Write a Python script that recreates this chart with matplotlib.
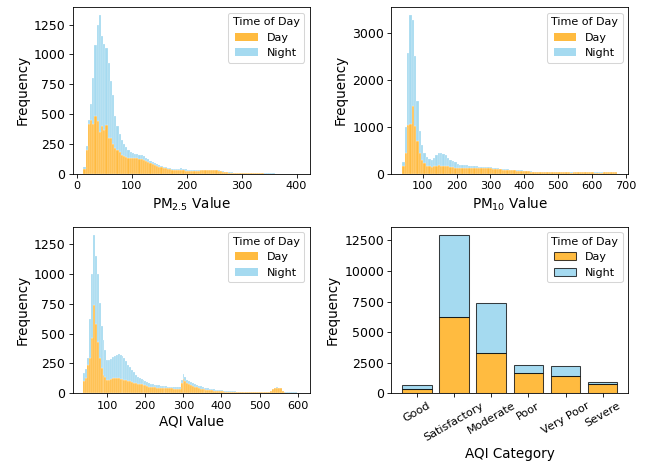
import numpy as np
import matplotlib
matplotlib.use("Agg")
import matplotlib.pyplot as plt
from matplotlib.patches import Patch
from matplotlib.ticker import MultipleLocator

# ---------------- data (bar heights) ----------------
# PM2.5 histogram: bins of width 4 starting at 12
pm25_start, pm25_width = 12, 4
pm25_day = [
    40, 200, 420, 450, 420, 480, 440, 350, 400, 370,
    410, 300, 300, 250, 215, 200, 185, 160, 150, 140,
    132, 130, 130, 130, 128, 125, 122, 115, 108, 100,
    90, 82, 75, 66, 58, 52, 48, 44, 40, 36,
    33, 30, 30, 30, 30, 28, 26, 22, 22, 22,
    24, 24, 26, 28, 28, 28, 28, 28, 28, 30,
    28, 24, 20, 16, 12, 10, 8, 7, 6, 5,
    5, 4, 4, 3, 3, 3, 2, 2, 3, 3,
    2, 2, 1, 1, 1, 1, 1, 1, 1, 0,
    0, 0, 0, 0, 0, 0, 0, 0,
]
pm25_night = [
    20, 30, 30, 130, 380, 600, 810, 980, 750, 720,
    640, 630, 480, 410, 265, 200, 145, 120, 95, 80,
    68, 55, 45, 38, 37, 35, 36, 33, 27, 25,
    20, 18, 13, 12, 12, 12, 10, 8, 8, 8,
    7, 8, 10, 12, 14, 14, 14, 12, 8, 6,
    4, 4, 4, 4, 4, 4, 4, 4, 4, 4,
    4, 4, 4, 4, 4, 4, 4, 3, 3, 3,
    3, 3, 3, 3, 3, 2, 2, 2, 1, 1,
    1, 1, 1, 1, 1, 1, 1, 0, 0, 1,
    1, 1, 1, 1, 1, 1, 1, 1,
]

# PM10 histogram: bins of width 7 starting at 39
pm10_start, pm10_width = 39, 7
pm10_day = [
    160, 440, 1040, 1060, 1440, 1010, 700, 450, 300, 220,
    170, 155, 150, 155, 165, 175, 170, 165, 160, 155,
    150, 140, 130, 120, 118, 115, 115, 115, 118, 120,
    118, 115, 118, 120, 125, 128, 125, 118, 110, 105,
    100, 95, 88, 82, 78, 74, 70, 68, 65, 62,
    60, 56, 52, 48, 42, 38, 35, 33, 31, 30,
    28, 27, 26, 26, 25, 25, 25, 27, 31, 27,
    25, 23, 25, 29, 31, 29, 27, 27, 29, 27,
    25, 23, 22, 22, 23, 25, 27, 29, 31, 31,
    27,
]
pm10_night = [
    80, 560, 1520, 2320, 1830, 1490, 850, 450, 300, 220,
    180, 155, 150, 175, 235, 275, 270, 255, 240, 185,
    150, 130, 110, 90, 77, 70, 65, 60, 52, 45,
    42, 40, 32, 30, 20, 17, 15, 17, 15, 15,
    15, 15, 12, 13, 12, 11, 10, 10, 10, 8,
    8, 9, 8, 7, 8, 7, 7, 7, 7, 6,
    6, 5, 4, 4, 3, 3, 3, 3, 3, 3,
    3, 3, 3, 3, 3, 3, 3, 3, 3, 3,
    3, 3, 3, 3, 3, 3, 3, 3, 3, 3,
    3,
]

# AQI histogram: bins of width 5 starting at 38
aqi_start, aqi_width = 38, 5
aqi_day = [
    100, 125, 240, 300, 460, 740, 580, 430, 300, 210,
    155, 140, 115, 115, 120, 126, 130, 131, 128, 124,
    120, 115, 110, 105, 100, 94, 90, 86, 82, 78,
    75, 70, 66, 62, 57, 54, 52, 50, 48, 48,
    47, 46, 45, 44, 42, 42, 41, 40, 38, 36,
    38, 85, 120, 100, 85, 76, 68, 62, 56, 50,
    45, 40, 36, 34, 31, 29, 27, 25, 23, 21,
    20, 19, 17, 16, 15, 14, 13, 12, 12, 11,
    10, 10, 10, 10, 9, 9, 8, 8, 8, 8,
    8, 8, 8, 7, 7, 7, 7, 10, 18, 38,
    44, 48, 46, 42, 18, 8, 6, 6, 5, 5,
    5, 5, 4,
]
aqi_night = [
    70, 75, 60, 320, 540, 590, 570, 570, 460, 350,
    295, 220, 165, 165, 170, 179, 185, 194, 202, 201,
    195, 185, 160, 135, 120, 101, 85, 69, 58, 50,
    43, 40, 34, 30, 29, 26, 24, 22, 20, 18,
    17, 16, 15, 14, 14, 13, 13, 13, 14, 14,
    14, 25, 40, 35, 30, 26, 24, 22, 20, 20,
    19, 18, 16, 14, 13, 13, 11, 10, 9, 9,
    8, 7, 7, 6, 6, 6, 6, 6, 5, 5,
    5, 5, 4, 4, 4, 4, 4, 4, 4, 4,
    3, 3, 3, 3, 3, 3, 3, 2, 2, 2,
    2, 2, 2, 2, 2, 2, 2, 2, 2, 2,
    2, 2, 2,
]

# AQI category counts
categories = ["Good", "Satisfactory", "Moderate", "Poor", "Very Poor", "Severe"]
cat_day = [330, 6200, 3320, 1660, 1390, 730]
cat_night = [350, 6770, 4100, 625, 810, 170]

# ---------------- styling ----------------
DAY_C = "orange"
NIGHT_C = "skyblue"
ALPHA = 0.75

plt.rcParams.update({
    "xtick.labelsize": 10.8,
    "ytick.labelsize": 12,
    "axes.labelsize": 13,
    "legend.fontsize": 10.7,
    "legend.title_fontsize": 10.7,
})

fig, axes = plt.subplots(2, 2, figsize=(647 / 75, 468 / 75), dpi=75)
fig.subplots_adjust(left=0.1124, right=0.971, top=0.985, bottom=0.1596,
                    wspace=0.3456, hspace=0.318)


def hist_panel(ax, start, width, day, night, xlabel, xstep, ystep):
    day = np.asarray(day, dtype=float)
    night = np.asarray(night, dtype=float)
    edges = start + width * np.arange(len(day))
    ax.bar(edges, day, width=width, align="edge", color=DAY_C, alpha=ALPHA,
           edgecolor="white", linewidth=0.3)
    ax.bar(edges, night, width=width, bottom=day, align="edge", color=NIGHT_C,
           alpha=ALPHA, edgecolor="white", linewidth=0.3)
    ax.set_xlabel(xlabel)
    ax.set_ylabel("Frequency")
    ax.xaxis.set_major_locator(MultipleLocator(xstep))
    ax.yaxis.set_major_locator(MultipleLocator(ystep))
    handles = [Patch(facecolor=DAY_C, alpha=ALPHA, label="Day"),
               Patch(facecolor=NIGHT_C, alpha=ALPHA, label="Night")]
    ax.legend(handles=handles, title="Time of Day", loc="upper right")


hist_panel(axes[0, 0], pm25_start, pm25_width, pm25_day, pm25_night,
           r"PM$_{2.5}$ Value", 100, 250)
hist_panel(axes[0, 1], pm10_start, pm10_width, pm10_day, pm10_night,
           r"PM$_{10}$ Value", 100, 1000)
hist_panel(axes[1, 0], aqi_start, aqi_width, aqi_day, aqi_night,
           "AQI Value", 100, 250)

ax = axes[1, 1]
xpos = np.arange(len(categories))
ax.bar(xpos, cat_day, width=0.8, color=DAY_C, alpha=ALPHA, edgecolor="black",
       linewidth=1.0)
ax.bar(xpos, cat_night, width=0.8, bottom=cat_day, color=NIGHT_C, alpha=ALPHA,
       edgecolor="black", linewidth=1.0)
ax.set_xticks(xpos)
ax.set_xticklabels(categories, rotation=30)
ax.yaxis.set_major_locator(MultipleLocator(2500))
ax.set_xlabel("AQI Category")
ax.set_ylabel("Frequency")
handles = [Patch(facecolor=DAY_C, alpha=ALPHA, edgecolor="black", label="Day"),
           Patch(facecolor=NIGHT_C, alpha=ALPHA, edgecolor="black", label="Night")]
ax.legend(handles=handles, title="Time of Day", loc="upper right")

fig.savefig("out.png", dpi=75)
